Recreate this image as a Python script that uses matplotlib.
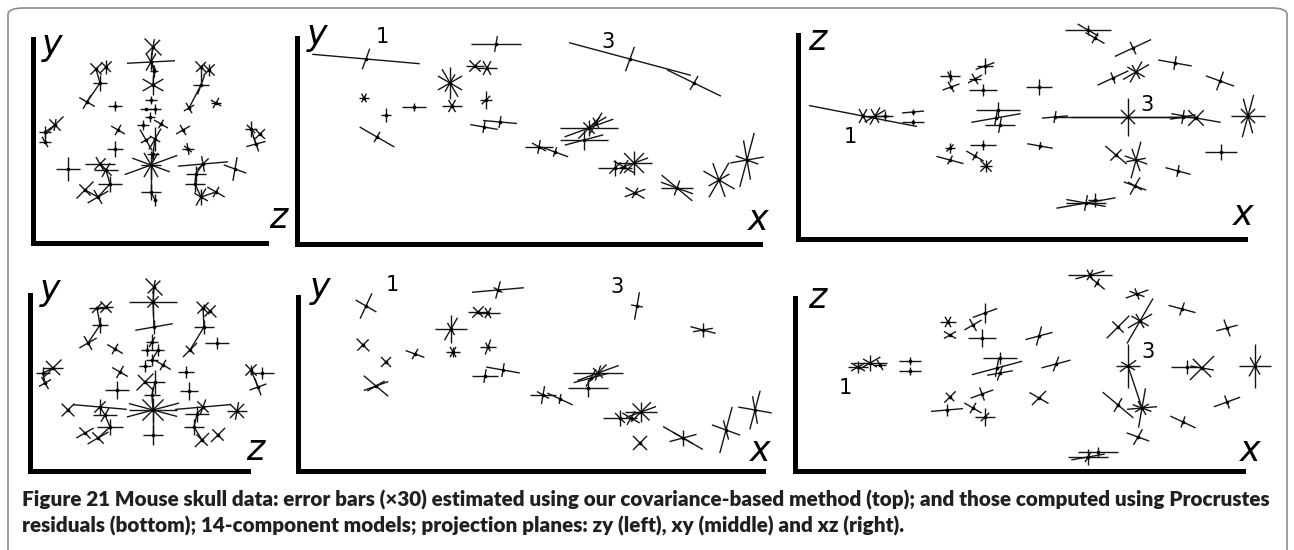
import matplotlib
matplotlib.use("Agg")
import matplotlib.pyplot as plt
import numpy as np
from matplotlib.collections import LineCollection
from matplotlib.patches import FancyBboxPatch

# ---------------- data (landmark projections, panel units) ----------------
# Panel 1: zy plane, covariance-based error bars
p1_x = [120, 118, 121, 120, 63, 73, 67, 54, 82, 168, 176, 168, 156, 183, 118, 113, 122, 117, 110, 128,
        85, 150, 22, 12, 12, 218, 227, 223, 82, 155, 113, 122, 120, 118, 35, 67, 73, 77, 170, 163,
        162, 202, 52, 65, 118, 122, 168, 183]
p1_y = [196, 181, 172, 158, 174, 176, 160, 141, 137, 176, 173, 158, 135, 140, 143, 134, 134, 126, 118, 119,
        113, 113, 118, 111, 101, 114, 109, 99, 94, 94, 103, 104, 89, 78, 74, 79, 73, 59, 79, 69,
        59, 74, 53, 46, 51, 43, 46, 51]
p1_bars = [[(135, 12), (45, 10), (80, 8)], [(3, 24), (60, 10), (120, 10), (90, 8)], [(90, 6), (0, 4)],
           [(30, 12), (150, 12), (90, 10)], [(135, 8), (45, 8)], [(45, 8), (135, 7), (90, 7)],
           [(0, 7), (90, 8)], [(150, 9), (60, 8)], [(0, 7), (90, 5)], [(135, 8), (45, 7)],
           [(45, 8), (135, 8), (90, 6)], [(0, 8), (70, 10)], [(30, 6), (120, 6)], [(60, 6), (150, 6), (0, 5)],
           [(0, 6), (90, 4)], [(0, 6)], [(0, 6), (90, 5)], [(0, 5), (90, 5)], [(0, 6), (90, 5)],
           [(150, 8), (60, 5)], [(150, 8), (60, 6)], [(30, 8), (120, 6)], [(45, 12), (135, 8), (80, 6)],
           [(0, 6), (90, 6)], [(0, 6), (120, 6)], [(0, 6), (90, 8), (135, 6)], [(45, 7), (135, 7)],
           [(15, 10), (110, 8)], [(0, 8), (90, 8)], [(0, 6), (100, 6), (140, 5)], [(120, 12), (30, 6)],
           [(60, 12), (150, 6), (90, 12)], [(0, 6), (90, 6)],
           [(20, 28), (160, 20), (60, 14), (120, 14), (90, 14), (0, 10)], [(0, 12), (90, 12)],
           [(0, 15), (120, 8), (45, 8)], [(0, 12), (60, 8), (135, 8)], [(0, 12), (90, 8)],
           [(5, 25), (100, 8), (45, 8)], [(0, 10), (90, 8)], [(0, 10), (90, 8)], [(160, 12), (80, 12)],
           [(45, 12), (135, 8)], [(30, 12), (120, 8)], [(0, 10), (90, 8)], [(90, 6)],
           [(60, 10), (150, 8), (90, 8)], [(150, 10), (60, 6)]]
p1_links = [(1, 2), (2, 3), (3, 4), (5, 7), (7, 8), (10, 12), (12, 13), (23, 24), (24, 25), (26, 28),
            (34, 45), (45, 46), (36, 37), (37, 38), (38, 44), (43, 44), (39, 40), (40, 41), (41, 47),
            (47, 48), (32, 33), (33, 34)]

# Panel 2: xy plane, covariance-based error bars
p2_x = [69, 199, 333, 397, 67, 89, 117, 80, 153, 155, 178, 190, 189, 187, 203, 242, 258, 292, 299, 287,
        318, 337, 327, 338, 380, 422, 450]
p2_y = [185, 200, 185, 161, 146, 129, 137, 107, 161, 138, 178, 176, 144, 117, 122, 97, 92, 116, 121, 104,
        76, 81, 77, 51, 56, 64, 84]
p2_bars = [[(-5, 54), (70, 11)], [(0, 25), (80, 8)], [(-15, 63), (70, 13)], [(-26, 30), (60, 8)],
           [(0, 5), (60, 5), (120, 5)], [(0, 5), (90, 7)], [(0, 12), (90, 4)], [(-30, 20), (60, 6)],
           [(90, 16), (30, 14), (150, 14), (120, 16), (60, 10)], [(0, 10), (60, 7), (120, 7)],
           [(0, 9), (45, 8), (135, 8)], [(0, 10), (60, 8), (120, 8)], [(90, 9), (0, 6), (45, 6)],
           [(-10, 14), (80, 6)], [(-5, 17), (80, 6)], [(0, 14), (80, 7), (150, 8)], [(-20, 14), (70, 5)],
           [(0, 29), (20, 26), (45, 15), (90, 8), (135, 8)], [(30, 12), (60, 12), (120, 6)],
           [(0, 24), (90, 10), (15, 20)], [(0, 17), (90, 8), (45, 8)],
           [(0, 18), (45, 14), (135, 14), (90, 12), (20, 15)], [(-30, 12), (60, 8)],
           [(20, 11), (150, 11), (60, 6)], [(-20, 17), (0, 16), (-40, 20), (70, 8)],
           [(60, 20), (110, 18), (-30, 18), (30, 12)], [(75, 28), (10, 17), (100, 20), (-20, 12)]]
p2_links = []

# Panel 3: xz plane, covariance-based error bars
p3_x = [65, 77, 87, 115, 115, 152, 153, 177, 187, 185, 241, 200, 198, 202, 257, 330, 385, 398, 450, 423,
        380, 318, 338, 337, 288, 297, 290, 297, 335, 377, 338, 315, 422, 242, 152, 152, 185, 177, 188]
p3_y = [123, 123, 123, 127, 117, 163, 152, 160, 173, 149, 152, 129, 121, 114, 122, 122, 122, 121, 123, 87,
        68, 84, 79, 53, 36, 39, 209, 201, 191, 176, 167, 161, 158, 93, 91, 79, 94, 83, 73]
p3_bars = [[(-11, 55), (60, 8), (120, 8)], [(0, 14), (30, 12), (120, 8), (60, 10)], [(0, 8), (90, 5)],
           [(5, 11), (90, 3)], [(0, 11), (90, 3)], [(0, 10), (90, 6), (120, 5)], [(20, 9), (120, 6)],
           [(30, 8), (120, 6), (0, 6)], [(0, 8), (90, 8), (20, 10)], [(0, 14), (90, 6)], [(0, 13), (90, 8)],
           [(0, 22), (90, 8)], [(10, 25), (80, 8)], [(0, 15), (80, 8)], [(5, 13), (80, 6)],
           [(0, 57), (90, 19), (45, 10), (135, 10)], [(0, 15), (80, 7), (10, 13)],
           [(45, 11), (135, 11), (-10, 25)], [(75, 22), (105, 18), (0, 17), (45, 10), (135, 10)],
           [(0, 16), (90, 8)], [(-15, 13), (80, 6)], [(-40, 14), (45, 8)],
           [(75, 19), (10, 10), (-20, 12), (110, 12)], [(-20, 12), (60, 10), (150, 8)],
           [(10, 30), (0, 20), (80, 8), (-10, 20)], [(90, 7), (0, 7)], [(0, 23), (150, 12), (90, 5)],
           [(-30, 11), (60, 6)], [(25, 20), (115, 7)], [(-10, 17), (80, 7)],
           [(30, 15), (60, 12), (-30, 10), (120, 8)], [(25, 17), (110, 6)], [(-20, 15), (70, 10)],
           [(-10, 13), (80, 4)], [(0, 5), (90, 5), (45, 5)], [(-15, 14), (60, 5)], [(0, 13), (90, 5)],
           [(-30, 10), (60, 5)], [(45, 8), (135, 8), (90, 6), (0, 6)]]
p3_links = [(15, 16), (16, 17), (17, 18)]

# Panel 4: zy plane, Procrustes residuals
p4_x = [124, 123, 124, 122, 67, 76, 70, 58, 85, 173, 180, 174, 160, 187, 117, 128, 122, 115, 133, 90,
        156, 23, 13, 15, 221, 232, 228, 87, 159, 115, 125, 122, 123, 38, 70, 75, 80, 173, 167, 164,
        207, 55, 68, 123, 172, 188]
p4_y = [184, 169, 144, 129, 163, 164, 146, 128, 122, 163, 160, 144, 121, 128, 121, 121, 111, 105, 106, 99,
        99, 103, 98, 88, 101, 98, 84, 81, 80, 89, 89, 76, 61, 61, 64, 56, 44, 64, 57, 44,
        60, 38, 33, 36, 31, 36]
p4_bars = [[(135, 12), (45, 9), (80, 7)], [(0, 24), (90, 14), (45, 8), (135, 8)], [(10, 19), (90, 7)],
           [(90, 8), (0, 6), (60, 6)], [(0, 8), (45, 7)], [(45, 8), (135, 8), (0, 7)], [(0, 8), (90, 8)],
           [(30, 10), (120, 8)], [(150, 9), (60, 6)], [(135, 9), (45, 8)], [(45, 8), (135, 9)],
           [(0, 10), (90, 7)], [(45, 10), (135, 6)], [(0, 12), (90, 6)], [(0, 6), (90, 6)],
           [(0, 6), (90, 6)], [(0, 6), (90, 6)], [(0, 6), (90, 6)], [(150, 9), (60, 6)],
           [(150, 9), (60, 7)], [(0, 8), (90, 6)], [(45, 12), (135, 10), (0, 10)], [(0, 7), (90, 6)],
           [(30, 7), (120, 7)], [(45, 8), (135, 8), (90, 5)], [(0, 12), (90, 6)], [(20, 9), (110, 9)],
           [(0, 12), (90, 9)], [(0, 9), (90, 9)], [(45, 12), (135, 10)], [(0, 10), (90, 12)],
           [(0, 8), (90, 8)], [(0, 24), (15, 27), (165, 25), (45, 15), (135, 15), (90, 12)],
           [(45, 9), (135, 9)], [(-5, 27), (90, 8), (45, 8)], [(0, 12), (60, 8)], [(0, 13), (90, 8)],
           [(5, 28), (70, 8), (135, 8)], [(0, 12), (90, 8)], [(0, 10), (90, 8)],
           [(45, 10), (135, 10), (80, 9), (0, 10)], [(30, 10), (135, 8)], [(30, 12), (135, 8)],
           [(0, 10), (90, 10)], [(45, 10), (135, 8)], [(45, 10), (135, 8)]]
p4_links = [(1, 2), (2, 3), (5, 7), (7, 8), (10, 12), (12, 13), (22, 23), (23, 24), (25, 27), (33, 44),
            (35, 36), (36, 37), (37, 43), (38, 39), (39, 40), (40, 45), (31, 32), (32, 33), (17, 16)]

# Panel 5: xy plane, Procrustes residuals
p5_x = [68, 200, 339, 405, 65, 88, 117, 78, 153, 155, 180, 190, 190, 187, 205, 245, 262, 300, 293, 290,
        322, 343, 333, 342, 385, 428, 457]
p5_y = [165, 181, 165, 141, 126, 109, 117, 85, 142, 119, 159, 158, 124, 95, 101, 76, 72, 98, 93, 83,
        53, 59, 53, 28, 33, 41, 61]
p5_bars = [[(-30, 12), (65, 14)], [(5, 26), (75, 9), (150, 5)], [(80, 14), (-10, 6)],
           [(-15, 13), (10, 10), (90, 7)], [(-45, 9), (45, 8)], [(45, 7), (135, 7)], [(-20, 10), (60, 6)],
           [(-40, 16), (20, 13), (30, 10)], [(90, 14), (0, 16), (60, 13), (120, 7)],
           [(0, 7), (60, 6), (120, 6), (90, 5)], [(0, 10), (45, 8), (135, 7)], [(0, 12), (60, 6), (120, 6)],
           [(0, 8), (70, 8), (120, 5)], [(0, 13), (80, 7)], [(-10, 17), (80, 7)],
           [(0, 13), (80, 9), (150, 7)], [(-25, 14), (80, 5)],
           [(20, 22), (0, 25), (45, 12), (135, 7), (70, 8)], [(15, 18), (60, 10)], [(0, 20), (90, 9)],
           [(0, 17), (90, 8), (135, 7)], [(0, 16), (45, 14), (135, 12), (20, 16), (90, 10)],
           [(-30, 10), (60, 8)], [(45, 10), (135, 10)], [(-30, 23), (15, 14), (90, 8), (150, 11)],
           [(75, 24), (-20, 15), (105, 10)], [(75, 20), (-10, 17), (100, 14)]]
p5_links = []

# Panel 6: xz plane, Procrustes residuals
p6_x = [63, 75, 85, 115, 115, 153, 155, 178, 190, 187, 244, 205, 202, 205, 261, 333, 392, 407, 460, 432,
        388, 323, 347, 343, 293, 303, 295, 302, 342, 387, 345, 323, 432, 244, 155, 152, 187, 178, 190]
p6_y = [104, 108, 106, 110, 100, 149, 136, 146, 158, 133, 135, 113, 103, 98, 107, 105, 104, 103, 105, 69,
        49, 66, 63, 34, 14, 19, 196, 188, 177, 162, 150, 144, 143, 73, 74, 61, 77, 63, 54]
p6_bars = [[(0, 10), (30, 8), (150, 8), (90, 6)], [(0, 17), (30, 12), (150, 8), (90, 8)], [(0, 6), (120, 6)],
           [(0, 11), (90, 4)], [(0, 11), (90, 4)], [(0, 8), (60, 6), (120, 6)], [(30, 7), (150, 7)],
           [(30, 10), (120, 7)], [(20, 13), (90, 10)], [(0, 14), (90, 9)], [(15, 14), (75, 10)],
           [(0, 17), (90, 6)], [(15, 26), (80, 9)], [(10, 13), (70, 8)], [(15, 15), (70, 8)],
           [(0, 12), (90, 22), (35, 10), (150, 8)], [(0, 16), (90, 7)], [(45, 17), (135, 13), (-10, 12)],
           [(90, 22), (0, 16), (60, 12), (120, 10)], [(20, 14), (110, 7)], [(-25, 14), (70, 6)],
           [(-40, 20), (60, 8)], [(5, 15), (80, 20), (120, 8), (30, 8), (-20, 10)], [(-20, 12), (60, 9)],
           [(0, 20), (10, 17), (90, 8), (60, 6)], [(0, 20), (90, 5)], [(0, 22), (15, 15), (60, 6), (120, 6)],
           [(-40, 10), (60, 5)], [(20, 12), (110, 6), (-20, 8)], [(-15, 14), (70, 7)],
           [(60, 26), (30, 14), (-30, 10), (120, 8)], [(45, 16), (135, 8)], [(15, 11), (110, 9)],
           [(-30, 11), (45, 10)], [(45, 8), (135, 6)], [(5, 16), (90, 6)], [(20, 12), (110, 7)],
           [(-30, 10), (60, 6)], [(0, 10), (90, 9), (45, 6)]]
p6_links = [(16, 23)]

# axis letters and landmark number labels (panel units)
panels = [
    dict(x=p1_x, y=p1_y, bars=p1_bars, links=p1_links, rect=(33, 243, 233, 204),
         vlab=("y", 19, 198), hlab=("z", 245, 25), nums=[]),
    dict(x=p2_x, y=p2_y, bars=p2_bars, links=p2_links, rect=(297, 244, 463, 206),
         vlab=("y", 20, 209), hlab=("x", 461, 24), nums=[("1", 85, 207), ("3", 311, 202)]),
    dict(x=p3_x, y=p3_y, bars=p3_bars, links=p3_links, rect=(798, 239, 447, 204),
         vlab=("z", 19, 199), hlab=("x", 445, 24), nums=[("1", 52, 102), ("3", 349, 134)]),
    dict(x=p4_x, y=p4_y, bars=p4_bars, links=p4_links, rect=(30, 471, 218, 176),
         vlab=("y", 20, 181), hlab=("z", 225, 21), nums=[]),
    dict(x=p5_x, y=p5_y, bars=p5_bars, links=p5_links, rect=(298, 471, 465, 174),
         vlab=("y", 22, 183), hlab=("x", 462, 20), nums=[("1", 94, 186), ("3", 319, 184)]),
    dict(x=p6_x, y=p6_y, bars=p6_bars, links=p6_links, rect=(795, 471, 448, 173),
         vlab=("z", 22, 173), hlab=("x", 455, 20), nums=[("1", 50, 83), ("3", 353, 119)]),
]

caption1 = ("Figure 21 Mouse skull data: error bars (\u00d730) estimated using our covariance-based "
            "method (top); and those computed using Procrustes")
caption2 = ("residuals (bottom); 14-component models; projection planes: zy (left), xy (middle) "
            "and xz (right).")

# ---------------- drawing ----------------
FW, FH = 1294, 550
fig = plt.figure(figsize=(FW / 100, FH / 100), dpi=100)
fig.patch.set_facecolor("white")

# outer rounded frame
frame = FancyBboxPatch((8 / FW, -0.05), (1287 - 8) / FW, (FH - 8) / FH + 0.05,
                       boxstyle="round,pad=0,rounding_size=0.012", transform=fig.transFigure,
                       facecolor="none", edgecolor="#8c8c8c", linewidth=1.2, clip_on=False)
fig.patches.append(frame)

for p in panels:
    L, B, W, H = p["rect"]
    ax = fig.add_axes([L / FW, (FH - B) / FH, W / FW, H / FH])
    ax.set_xlim(0, W)
    ax.set_ylim(0, H)
    for s in ("top", "right"):
        ax.spines[s].set_visible(False)
    for s in ("left", "bottom"):
        ax.spines[s].set_linewidth(3.6)
        ax.spines[s].set_color("black")
        ax.spines[s].set_capstyle("projecting")
    ax.set_xticks([])
    ax.set_yticks([])
    ax.patch.set_alpha(0)

    xs = np.array(p["x"], float)
    ys = np.array(p["y"], float)
    segs = []
    for cx, cy, bl in zip(xs, ys, p["bars"]):
        for ang, hl in bl:
            a = np.deg2rad(ang)
            dx, dy = hl * np.cos(a), hl * np.sin(a)
            segs.append([(cx - dx, cy - dy), (cx + dx, cy + dy)])
    for i, j in p["links"]:
        segs.append([(xs[i - 1], ys[i - 1]), (xs[j - 1], ys[j - 1])])
    lc = LineCollection(segs, colors="#151515", linewidths=1.0, clip_on=False)
    ax.add_collection(lc)
    ax.scatter(xs, ys, s=7, color="black", zorder=3, clip_on=False, linewidths=0)

    t, tx, ty = p["vlab"]
    ax.text(tx, ty, t, fontsize=25, style="italic", family="DejaVu Sans", ha="center", va="center",
            clip_on=False)
    t, tx, ty = p["hlab"]
    ax.text(tx, ty, t, fontsize=25, style="italic", family="DejaVu Sans", ha="center", va="center",
            clip_on=False)
    for t, tx, ty in p["nums"]:
        ax.text(tx, ty, t, fontsize=15, family="DejaVu Sans", ha="center", va="center", clip_on=False)

# caption, fitted to the reference line width
cap_font = "Lato"
t1 = fig.text(22 / FW, (FH - 507) / FH, caption1, fontsize=14, fontweight="heavy", family=cap_font,
              color="#231f20", ha="left", va="baseline")
fig.canvas.draw()
r = fig.canvas.get_renderer()
w = t1.get_window_extent(r).width
fs = 14 * (1245 / w)
t1.set_fontsize(fs)
fig.text(22 / FW, (FH - 533) / FH, caption2, fontsize=fs, fontweight="heavy", family=cap_font,
         color="#231f20", ha="left", va="baseline")

fig.savefig("out.png", dpi=100, facecolor="white")
